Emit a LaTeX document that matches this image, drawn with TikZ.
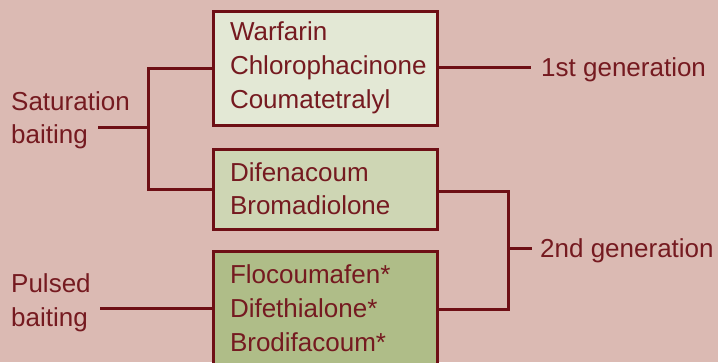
\documentclass[tikz,border=0pt]{standalone}
\usepackage{fontspec}
\setmainfont{Liberation Sans}
\definecolor{bgpink}{HTML}{DBBAB3}
\definecolor{dred}{HTML}{6E0F15}
\definecolor{tred}{HTML}{751A20}
\definecolor{boxA}{HTML}{E3E8D5}
\definecolor{boxB}{HTML}{CED6B4}
\definecolor{boxC}{HTML}{AFBD88}
\tikzset{
  drugbox/.style={draw=dred, line width=3pt, minimum width=224pt, minimum height=114pt,
    text width=190pt, inner xsep=17pt, align=left, text=tred,
    font=\fontsize{26}{34}\selectfont},
  lbl/.style={anchor=base west, inner sep=0pt, text=tred, font=\fontsize{26}{34}\selectfont},
  conn/.style={draw=dred, line width=3pt}
}
\begin{document}
\begin{tikzpicture}[x=1pt,y=-1pt]
\clip (0,0) rectangle (718,362);
\fill[bgpink] (0,0) rectangle (718,362);
\node[drugbox, fill=boxA] (b1) at (325,68) {Warfarin\\Chlorophacinone\\Coumatetralyl};
\node[drugbox, fill=boxB, minimum height=80pt] (b2) at (325,189) {Difenacoum\\[-1pt]Bromadiolone};
\node[drugbox, fill=boxC] (b3) at (325,308) {Flocoumafen*\\Difethialone*\\Brodifacoum*};
\node[lbl] (satA) at (11,110) {Saturation};
\node[lbl] (satB) at (11,143) {baiting};
\node[lbl] (pulA) at (11,292) {Pulsed};
\node[lbl] (pulB) at (11,326) {baiting};
\node[lbl] (g1) at (541,76) {1st generation};
\node[lbl] (g2) at (540,257) {2nd generation};
\coordinate (s1) at (98,127);
\coordinate (j1) at (148,127);
\coordinate (p1) at (100,308);
\coordinate (j2) at (508,248);
\coordinate (e1) at (531,67);
\coordinate (e2) at (532,248);
\draw[conn] (s1) -- (j1);
\draw[conn] (b1.west) -| (j1) |- (b2.west);
\draw[conn] (p1) -- (b3.west);
\draw[conn] (b1.east |- e1) -- (e1);
\draw[conn] (b2.east |- 0,191) -| (j2) |- (b3.east |- 0,309);
\draw[conn] (j2) -- (e2);
\end{tikzpicture}
\end{document}
